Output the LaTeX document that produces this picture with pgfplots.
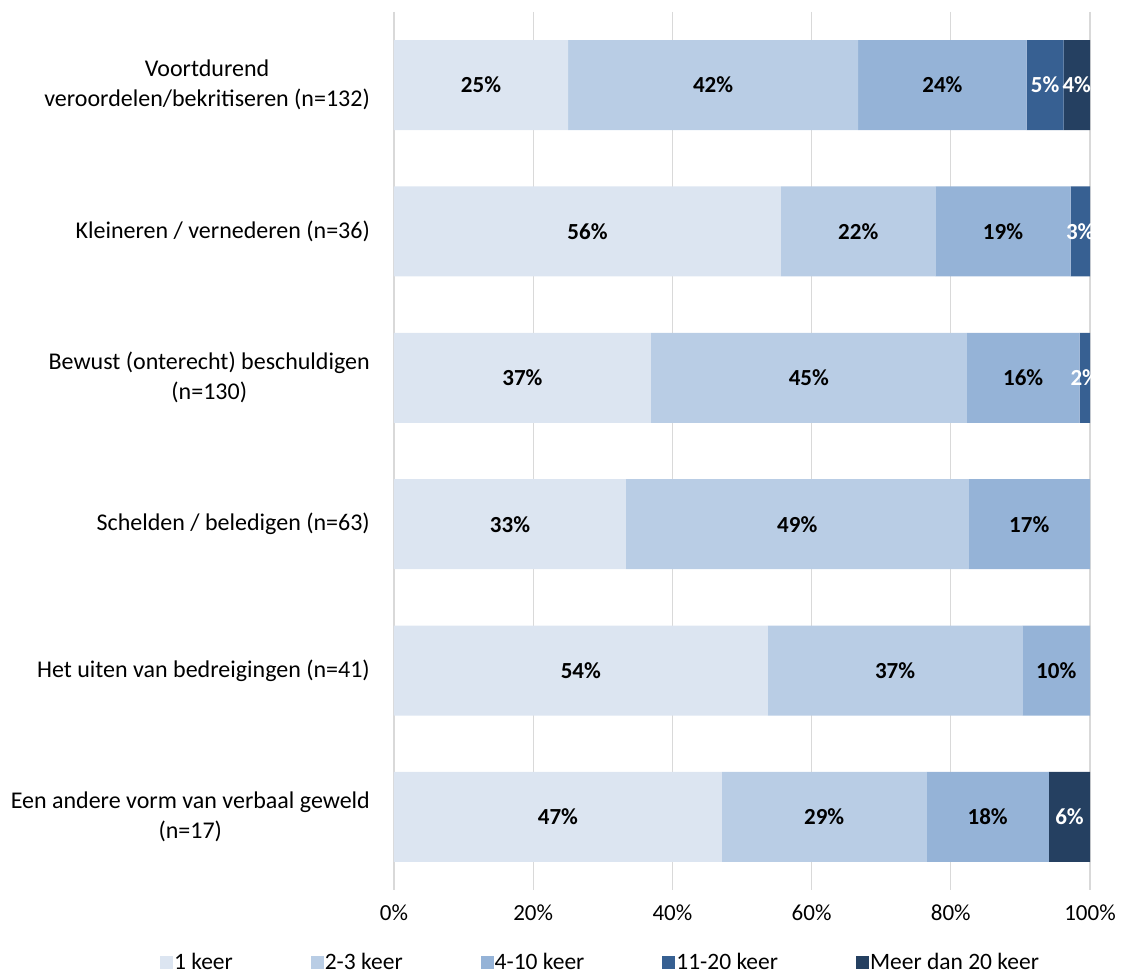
\documentclass[border=0pt]{standalone}
\usepackage{pgfplots}
\pgfplotsset{compat=1.18}
\usepackage{pgfplotstable}
\usepackage{fontspec}
\setmainfont{Carlito}
\definecolor{c1}{HTML}{DCE5F1}
\definecolor{c2}{HTML}{B9CDE5}
\definecolor{c3}{HTML}{95B3D7}
\definecolor{c4}{HTML}{376092}
\definecolor{c5}{HTML}{254061}
\definecolor{gridc}{HTML}{D9D9D9}
\pgfplotstableread{
idx a b c d e
0 25.0 41.7 24.2 5.3 3.8
1 55.6 22.2 19.4 2.8 0
2 36.9 45.4 16.2 1.5 0
3 33.33 49.21 17.46 0 0
4 53.7 36.6 9.7 0 0
5 47.1 29.4 17.6 0 5.9
}\data
\begin{document}
\begin{tikzpicture}[font=\fontsize{23.5}{30}\selectfont]
\useasboundingbox (0,0) rectangle (1122pt,976pt);
\begin{axis}[
  at={(394pt,86pt)}, anchor=south west,
  scale only axis, width=696pt, height=878pt,
  xbar stacked, bar width=90pt,
  xmin=0, xmax=100, ymin=-0.5, ymax=5.5, y dir=reverse,
  xtick={0,20,40,60,80,100},
  xticklabel={\pgfmathprintnumber{\tick}\%},
  /pgf/number format/assume math mode=true,
  ytick={0,1,2,3,4,5},
  yticklabels={{Voortdurend\\veroordelen/bekritiseren (n=132)},
    {Kleineren / vernederen (n=36)},
    {Bewust (onterecht) beschuldigen\\(n=130)},
    {Schelden / beledigen (n=63)},
    {Het uiten van bedreigingen (n=41)},
    {Een andere vorm van verbaal geweld\\(n=17)}},
  yticklabel style={align=center, inner sep=0pt, xshift=-24pt, font=\fontsize{24}{30}\selectfont},
  xticklabel style={inner sep=0pt, yshift=-15pt, font=\fontsize{23}{30}\selectfont},
  major tick length=0pt,
  tick style={draw=none},
  axis line style={draw=none},
  xmajorgrids, grid style={draw=gridc, line width=1.3pt},
  nodes near coords={\pgfmathfloatifflags{\pgfplotspointmeta}{0}{}{\pgfmathprintnumber[fixed,precision=0]{\pgfplotspointmeta}\%}},
  every node near coord/.append style={anchor=center, font=\fontsize{23}{30}\selectfont\bfseries},
  legend columns=5,
  legend style={at={(0.296,-0.082)}, anchor=center, draw=none, fill=none,
    font=\fontsize{23.5}{30}\selectfont,
    /tikz/every even column/.append style={column sep=77pt},
    nodes={inner sep=1pt}},
  legend image code/.code={\fill[#1] (0pt,-6.5pt) rectangle (13pt,6.5pt);},
]
\addplot[fill=c1, draw=none] table[x=a, y=idx, meta=a] {\data};
\addplot[fill=c2, draw=none] table[x=b, y=idx, meta=b] {\data};
\addplot[fill=c3, draw=none] table[x=c, y=idx, meta=c] {\data};
\addplot[fill=c4, draw=none, every node near coord/.append style={white}] table[x=d, y=idx, meta=d] {\data};
\addplot[fill=c5, draw=none, every node near coord/.append style={white}] table[x=e, y=idx, meta=e] {\data};
\legend{1 keer, 2-3 keer, 4-10 keer, 11-20 keer, Meer dan 20 keer}
\end{axis}
\end{tikzpicture}
\end{document}
